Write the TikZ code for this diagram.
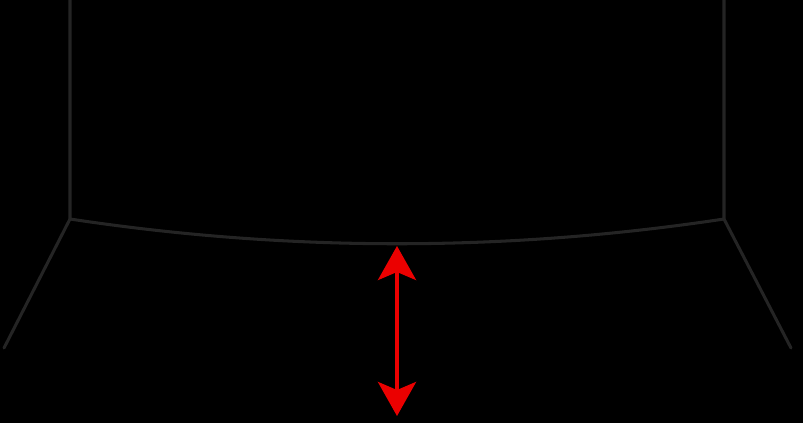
\documentclass[tikz,border=0pt]{standalone}
\usepackage{xcolor}
\usetikzlibrary{arrows.meta}
\definecolor{walldark}{RGB}{36,36,36}
\definecolor{gapred}{RGB}{235,0,0}
\tikzset{
	wall/.style={draw=walldark, line width=2.6pt, line cap=round, line join=miter},
	gap/.style={draw=gapred, fill=gapred, line width=3.6pt,
			{Stealth[length=1.02cm, width=1.14cm, inset=0.24cm]}-{Stealth[length=1.02cm, width=1.14cm, inset=0.24cm]}}
}

\begin{document}
\begin{tikzpicture}[x=0.03cm, y=-0.03cm]
        \fill[black] (0,0) rectangle (803,423);
        \useasboundingbox (0,0) rectangle (803,423);
        \coordinate (topl) at (70,0);
        \coordinate (topr) at (724,0);
        \coordinate (cornl) at (70,219);
        \coordinate (cornr) at (724,219);
        \coordinate (footl) at (4,348);
        \coordinate (footr) at (791,348);
        \coordinate (sag) at (397,246);
        \coordinate (floor) at (397,416);
        \draw[wall] (topl) -- (cornl) -- (footl);
        \draw[wall] (topr) -- (cornr) -- (footr);
        \draw[wall] (cornl) .. controls (288,252) and (506,252) .. (cornr);
        \draw[gap] (sag) -- (floor);
    \end{tikzpicture}
\end{document}
